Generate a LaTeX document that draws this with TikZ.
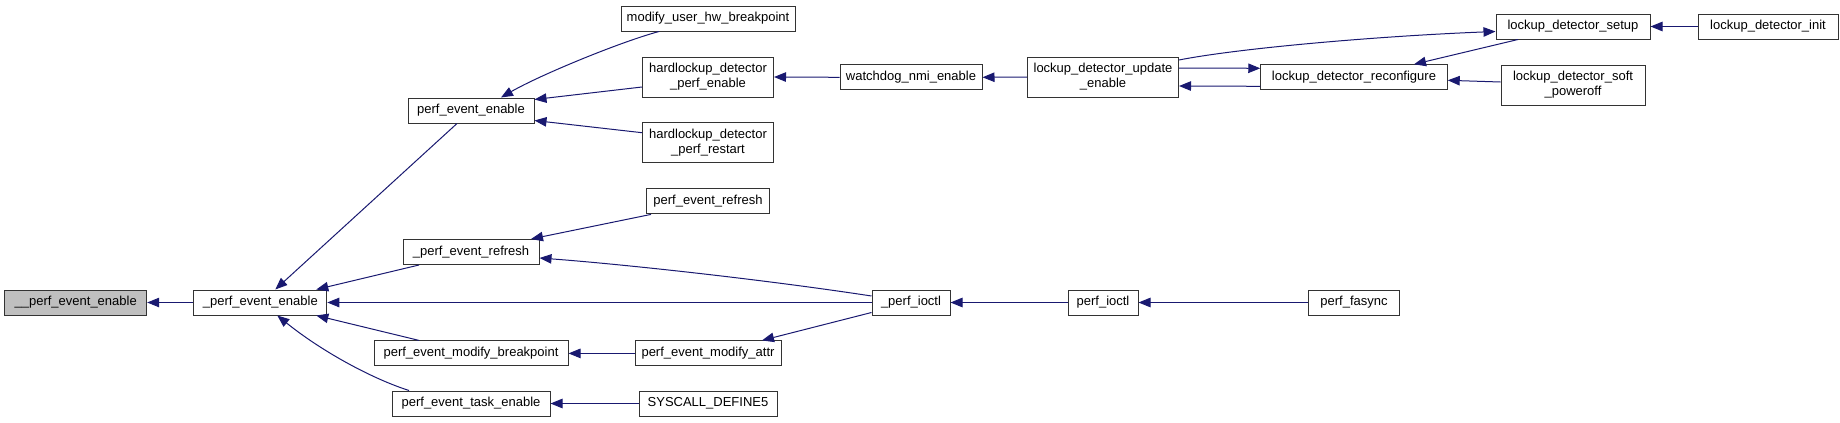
\documentclass[tikz,border=0pt]{standalone}
\usepackage{fontspec}
\setmainfont{Liberation Sans}
\usetikzlibrary{arrows.meta}
\definecolor{callblue}{HTML}{191970}
\definecolor{boxgray}{HTML}{BFBFBF}

\begin{document}
\begin{tikzpicture}[x=1pt, y=-1pt,
    fn/.style={draw=black!80, line width=1pt, rectangle, fill=white, inner sep=1pt,
        minimum height=25pt, align=center, font=\fontsize{13}{15}\selectfont},
    fn2/.style={fn, minimum height=40pt},
    cur/.style={fn, fill=boxgray},
    call/.style={-{Triangle[length=12pt, width=9.5pt]}, draw=callblue, line width=1pt}]
    \useasboundingbox (0,0) rectangle (1840,423);

    % 函数节点
    \node[cur, minimum width=142pt] (pee0) at (75.7, 302.5) {\_\_perf\_event\_enable};
    \node[fn, minimum width=133pt] (pee1) at (260.3, 302.5) {\_perf\_event\_enable};
    \node[fn, minimum width=126pt] (pee) at (471, 110.5) {perf\_event\_enable};
    \node[fn, minimum width=136pt] (per) at (471, 252) {\_perf\_event\_refresh};
    \node[fn, minimum width=194pt] (pemb) at (471, 353.4) {perf\_event\_modify\_breakpoint};
    \node[fn, minimum width=158pt] (pete) at (471, 403.5) {perf\_event\_task\_enable};
    \node[fn, minimum width=174pt] (muhb) at (708, 18.5) {modify\_user\_hw\_breakpoint};
    \node[fn2, minimum width=131pt] (hpe) at (708, 77) {hardlockup\_detector\\\_perf\_enable};
    \node[fn2, minimum width=131pt] (hpr) at (708, 142.7) {hardlockup\_detector\\\_perf\_restart};
    \node[fn, minimum width=123.5pt] (pef) at (708, 201.4) {perf\_event\_refresh};
    \node[fn, minimum width=146pt] (pema) at (708, 353.4) {perf\_event\_modify\_attr};
    \node[fn, minimum width=138pt] (sysc) at (708, 403.5) {SYSCALL\_DEFINE5};
    \node[fn, minimum width=78pt] (pioctl) at (911, 302.5) {\_perf\_ioctl};
    \node[fn, minimum width=142pt] (wne) at (911, 77.3) {watchdog\_nmi\_enable};
    \node[fn2, minimum width=151pt] (lue) at (1103, 77) {lockup\_detector\_update\\\_enable};
    \node[fn, minimum width=70pt] (pi) at (1103, 302.5) {perf\_ioctl};
    \node[fn, minimum width=186.5pt] (ldr) at (1354, 77.3) {lockup\_detector\_reconfigure};
    \node[fn, minimum width=91.4pt] (pfa) at (1354, 302.5) {perf\_fasync};
    \node[fn, minimum width=154pt] (lds) at (1573, 26.5) {lockup\_detector\_setup};
    \node[fn2, minimum width=144pt] (ldsp) at (1573, 85) {lockup\_detector\_soft\\\_poweroff};
    \node[fn, minimum width=140pt] (ldi) at (1768, 26.5) {lockup\_detector\_init};

    % 调用关系
    \draw[call] (pee1.west) -- (pee0.east);
    \draw[call] ([xshift=-14pt]pee.south) -- ([xshift=15pt]pee1.north);
    \draw[call] ([xshift=-52pt]per.south) -- ([xshift=56pt]pee1.north);
    \draw[call] (pioctl.west) -- (pee1.east);
    \draw[call] ([xshift=-52pt]pemb.north) -- ([xshift=56pt]pee1.south);
    \draw[call] ([xshift=-62pt]pete.north) .. controls (370, 378) and (320, 350) .. ([xshift=17pt]pee1.south);
    \draw[call] ([xshift=-49pt]muhb.south) .. controls (620, 42) and (540, 75) .. ([xshift=30pt]pee.north);
    \draw[call] ([yshift=-10pt]hpe.west) -- ([yshift=11pt]pee.east);
    \draw[call] ([yshift=10pt]hpr.west) -- ([yshift=-10pt]pee.east);
    \draw[call] ([xshift=-57pt]pef.south) -- ([xshift=60pt]per.north);
    \draw[call] ([yshift=6.5pt]pioctl.west) .. controls (760, 279) and (620, 264) .. ([yshift=-6pt]per.east);
    \draw[call] ([yshift=-10pt]pioctl.west) -- ([xshift=54pt]pema.north);
    \draw[call] (pema.west) -- (pemb.east);
    \draw[call] (sysc.west) -- (pete.east);
    \draw[call] (wne.west) -- (hpe.east);
    \draw[call] (lue.west) -- (wne.east);
    \draw[call] (pi.west) -- (pioctl.east);
    \draw[call] (pfa.west) -- (pi.east);
    \draw[call] ([yshift=17pt]lue.east) .. controls (1240, 48) and (1380, 36) .. ([yshift=-5pt]lds.west);
    \draw[call] ([yshift=9pt]lue.east) -- ([yshift=9pt]ldr.west);
    \draw[call] ([yshift=-9pt]ldr.west) -- ([yshift=-9pt]lue.east);
    \draw[call] ([xshift=-55pt]lds.south) -- ([xshift=60pt]ldr.north);
    \draw[call] ([yshift=3pt]ldsp.west) -- ([yshift=-3pt]ldr.east);
    \draw[call] (ldi.west) -- (lds.east);
\end{tikzpicture}
\end{document}
